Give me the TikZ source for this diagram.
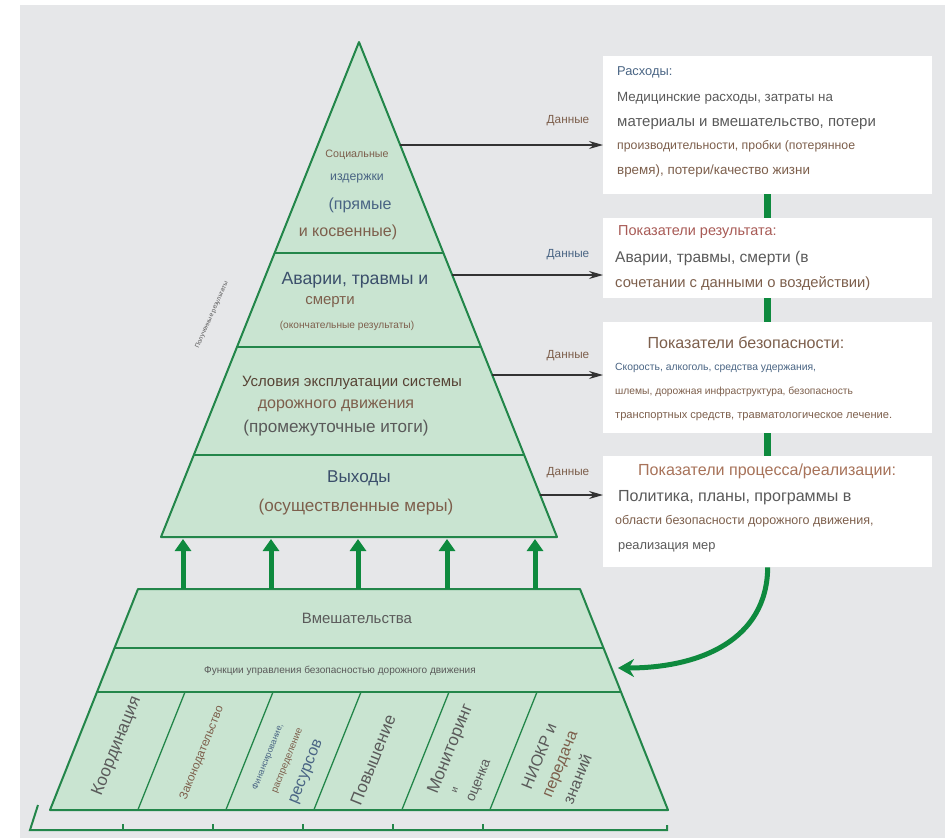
\documentclass[tikz,border=0pt]{standalone}
\usepackage{fontspec}
\setmainfont{Liberation Sans}
\usetikzlibrary{arrows.meta,positioning}

\definecolor{bggray}{HTML}{E6E7E9}
\definecolor{pyrline}{HTML}{23864A}
\definecolor{pyrfill}{HTML}{C9E4D1}
\definecolor{arrgreen}{HTML}{0E8A3E}
\definecolor{txtgray}{HTML}{5A5A5A}
\definecolor{txtbrown}{HTML}{7D5F4C}
\definecolor{txtblue}{HTML}{4A6584}
\definecolor{txtnavy}{HTML}{3B4F6B}
\definecolor{txtred}{HTML}{A85A55}
\definecolor{txtorange}{HTML}{A8735A}

\newcommand{\fsz}[1]{\fontsize{\fpeval{1.07*#1}}{\fpeval{1.07*#1}}\selectfont}

\tikzset{
  layer/.style={draw=pyrline, fill=pyrfill, line width=2pt, line join=round},
  split/.style={draw=pyrline, line width=2pt},
  colsplit/.style={draw=pyrline, line width=1.3pt},
  txt/.style={inner sep=0pt, text=txtgray},
  boxtxt/.style={inner sep=0pt, anchor=mid west, text=txtgray},
  coltxt/.style={inner sep=0pt, rotate=68, text=txtgray},
  infobox/.style={fill=white, minimum width=329pt, inner sep=0pt, anchor=north west},
  dataarrow/.style={draw=black!80, line width=1.3pt, -{Stealth[length=14pt,width=8pt]}},
  datalbl/.style={inner sep=0pt, font=\fsz{11}},
  link/.style={draw=arrgreen, line width=7pt},
  uparrow/.style={draw=arrgreen, line width=5pt, -{Triangle[length=12pt,width=16pt]}},
  feedback/.style={draw=arrgreen, line width=5pt, -{Stealth[length=16pt,width=18pt]}},
}

\begin{document}
\begin{tikzpicture}[x=1pt, y=-1pt]
		\useasboundingbox (0,0) rectangle (945,838);
		\fill[bggray] (20,5) rectangle (945,838);
		
		% upper pyramid
		\filldraw[layer] (359,42) -- (557,537) -- (161,537) -- cycle;
		\draw[split] (274.6,253) -- (443.4,253);
		\draw[split] (237,347) -- (481,347);
		\draw[split] (193.8,455) -- (524.2,455);
		
		% lower pyramid
		\draw[pyrline, line width=2pt] (38,805) -- (30,830) -- (667,830) -- (667,825);
		\foreach \x in {123,213,303,393,483}
			\draw[pyrline, line width=1.3pt] (\x,830) -- (\x,824);
		\filldraw[layer] (138,589) -- (580,589) -- (668,810) -- (50,810) -- cycle;
		\draw[split] (114.6,648) -- (603.4,648);
		\draw[split] (97,692) -- (621,692);
		\foreach \x in {185,273,361,449,537}
			\draw[colsplit] (\x,692) -- ({\x-47.2},810);
		
		% upward arrows
		\foreach \x [count=\i] in {183,271,358,447,535} {
			\coordinate (up\i) at (\x,589);
			\coordinate (dn\i) at (\x,539);
			\draw[uparrow] (up\i) -- (dn\i);
		}
		
		% pyramid labels
		\node[txt, text=txtbrown, font=\fsz{10}] (soc1) at (357,155) {Социальные};
		\node[txt, text=txtblue, font=\fsz{11.5}] (soc2) at (357,178) {издержки};
		\node[txt, text=txtblue, font=\fsz{15}] (soc3) at (360,205) {(прямые};
		\node[txt, text=txtbrown, font=\fsz{15}] (soc4) at (348,232) {и косвенные)};
		\node[txt, text=txtnavy, font=\fsz{16.5}] (crash1) at (355,280) {Аварии, травмы и};
		\node[txt, text=txtbrown, font=\fsz{14}] (crash2) at (330,302) {смерти};
		\node[txt, text=txtbrown, font=\fsz{9.5}] (crash3) at (347,326) {(окончательные результаты)};
		\node[txt, text=txtbrown!70!black, font=\fsz{14}] (cond1) at (352,383) {Условия эксплуатации системы};
		\node[txt, text=txtbrown, font=\fsz{15}] (cond2) at (336,406) {дорожного движения};
		\node[txt, font=\fsz{16}] (cond3) at (336,428) {(промежуточные итоги)};
		\node[txt, text=txtnavy, font=\fsz{16}] (out1) at (359,478) {Выходы};
		\node[txt, text=txtbrown, font=\fsz{16}] (out2) at (356,507) {(осуществленные меры)};
		\node[txt, font=\fsz{6}, rotate=66] (got) at (212,315) {Полученные результаты};
		
		\node[txt, font=\fsz{14}] (interv) at (357,618) {Вмешательства};
		\node[txt, font=\fsz{9.4}] (funcs) at (340,671) {Функции управления безопасностью дорожного движения};
		
		% columns
		\node[coltxt, font=\fsz{16}] (coord) at (117,746) {Координация};
		\node[coltxt, text=txtbrown, font=\fsz{11}] (law) at (202,753) {Законодательство};
		\node[coltxt, text=txtblue, font=\fsz{8}] (fin1) at (268,757) {Финансирование,};
		\node[coltxt, text=txtbrown, font=\fsz{9}] (fin2) at (288,761) {распределение};
		\node[coltxt, text=txtblue, font=\fsz{15}] (fin3) at (307,772) {ресурсов};
		\node[coltxt, font=\fsz{16}] (raise) at (373,760) {Повышение};
		\node[coltxt, font=\fsz{16}] (mon1) at (451,749) {Мониторинг};
		\node[coltxt, font=\fsz{9}] (mon2) at (455,790) {и};
		\node[coltxt, font=\fsz{13}] (mon3) at (480,781) {оценка};
		\node[coltxt, font=\fsz{15}] (rnd1) at (539,756) {НИОКР и};
		\node[coltxt, text=txtbrown, font=\fsz{15}] (rnd2) at (562,765) {передача};
		\node[coltxt, font=\fsz{15}] (rnd3) at (577,779) {знаний};
		
		% boxes
		\node[infobox, minimum height=138pt] (cost) at (603,56) {};
		\node[infobox, minimum height=80pt] (outcome) at (603,218) {};
		\node[infobox, minimum height=111pt] (safety) at (603,322) {};
		\node[infobox, minimum height=111pt] (process) at (603,456) {};
		
		\node[boxtxt, text=txtblue, font=\fsz{12}] (cost1) at (617,73) {Расходы:};
		\node[boxtxt, font=\fsz{12.5}] (cost2) at (617,99) {Медицинские расходы, затраты на};
		\node[boxtxt, font=\fsz{14}] (cost3) at (617,124) {материалы и вмешательство, потери};
		\node[boxtxt, text=txtbrown, font=\fsz{11.5}] (cost4) at (617,147) {производительности, пробки (потерянное};
		\node[boxtxt, text=txtbrown, font=\fsz{12.5}] (cost5) at (617,172) {время), потери/качество жизни};
		
		\node[boxtxt, text=txtred, font=\fsz{13.5}] (outc1) at (618,233) {Показатели результата:};
		\node[boxtxt, font=\fsz{14.5}] (outc2) at (615,260) {Аварии, травмы, смерти (в};
		\node[boxtxt, text=txtbrown, font=\fsz{13.8}] (outc3) at (615,285) {сочетании с данными о воздействии)};
		
		\node[txt, text=txtbrown, font=\fsz{15}] (saf1) at (746,343) {Показатели безопасности:};
		\node[boxtxt, text=txtblue, font=\fsz{9.7}] (saf2) at (615,368) {Скорость, алкоголь, средства удержания,};
		\node[boxtxt, text=txtbrown, font=\fsz{9.6}] (saf3) at (615,392) {шлемы, дорожная инфраструктура, безопасность};
		\node[boxtxt, text=txtbrown, font=\fsz{10.4}] (saf4) at (615,416) {транспортных средств, травматологическое лечение.};
		
		\node[boxtxt, text=txtorange, font=\fsz{15}] (proc1) at (638,473) {Показатели процесса/реализации:};
		\node[boxtxt, font=\fsz{15}] (proc2) at (618,499) {Политика, планы, программы в};
		\node[boxtxt, text=txtbrown, font=\fsz{11.7}] (proc3) at (615,522) {области безопасности дорожного движения,};
		\node[boxtxt, font=\fsz{12}] (proc4) at (618,547) {реализация мер};
		
		% data arrows
		\coordinate (e1) at (400,145);
		\coordinate (e2) at (452,275);
		\coordinate (e3) at (492,375);
		\coordinate (e4) at (540,495);
		\draw[dataarrow] (e1) -- (e1 -| cost.west);
		\draw[dataarrow] (e2) -- (e2 -| outcome.west);
		\draw[dataarrow] (e3) -- (e3 -| safety.west);
		\draw[dataarrow] (e4) -- (e4 -| process.west);
		\node[datalbl, text=txtbrown] (d1) at (568,121) {Данные};
		\node[datalbl, text=txtblue] (d2) at (568,255) {Данные};
		\node[datalbl, text=txtbrown] (d3) at (568,356) {Данные};
		\node[datalbl, text=txtbrown] (d4) at (568,473) {Данные};
		
		% green links
		\draw[link] (cost.south) -- (outcome.north);
		\draw[link] (outcome.south) -- (safety.north);
		\draw[link] (safety.south) -- (process.north);
		\coordinate (fnin) at (618,668);
		\draw[feedback] (process.south) .. controls (767,640) and (700,668) .. (fnin);
	\end{tikzpicture}
\end{document}
